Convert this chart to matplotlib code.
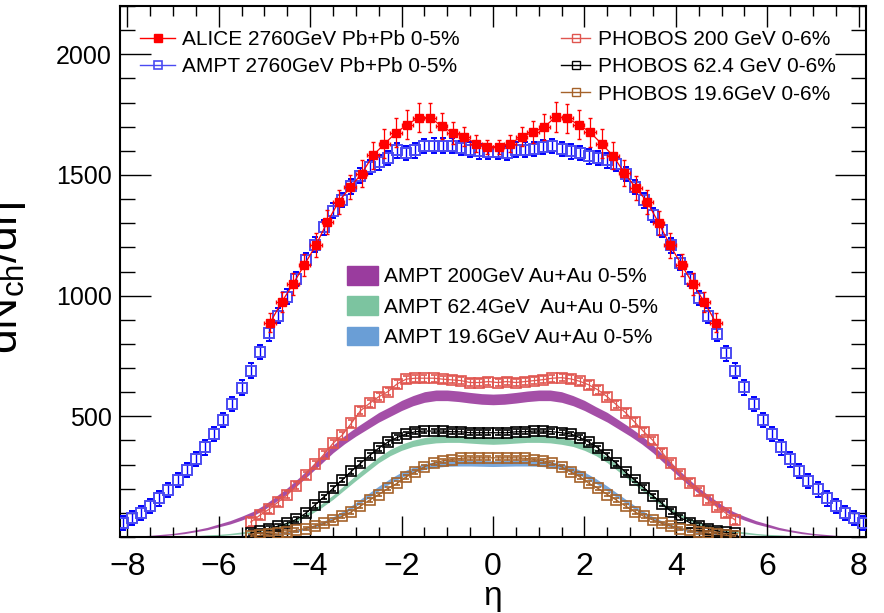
import numpy as np
import matplotlib.pyplot as plt
from matplotlib.lines import Line2D
from matplotlib.patches import Patch

plt.rcParams['font.family'] = ['Liberation Sans', 'DejaVu Sans']
plt.rcParams['mathtext.fontset'] = 'custom'
plt.rcParams['mathtext.rm'] = 'Liberation Sans'
plt.rcParams['mathtext.it'] = 'Liberation Sans'

# ALICE 2760 GeV Pb+Pb 0-5%  (bins of 0.25 in eta)
alice_eta = np.arange(-4.875, 4.9, 0.25)
alice_val = [888, 973, 1048, 1128, 1209, 1305, 1389, 1449, 1505, 1581,
             1629, 1674, 1709, 1738, 1738, 1702, 1674, 1658, 1630, 1616,
             1616, 1630, 1658, 1677, 1699, 1742, 1734, 1709, 1677, 1629,
             1580, 1508, 1446, 1388, 1301, 1208, 1128, 1048, 973, 888]
alice_err = [40, 40, 45, 45, 50, 50, 50, 50, 55, 55,
             60, 60, 60, 62, 62, 55, 45, 40, 35, 30,
             30, 35, 40, 45, 55, 62, 62, 60, 60, 60,
             55, 55, 50, 50, 50, 50, 45, 45, 40, 40]

# AMPT 2760 GeV Pb+Pb 0-5%  (bins of 0.2)
ampt2760_eta = np.round(np.arange(-8.1, 8.15, 0.2), 2)
ampt2760_val = [58, 79, 100, 129, 160, 194, 236, 277, 323, 371,
                427, 485, 551, 619, 689, 766, 844, 917, 996, 1070,
                1146, 1211, 1283, 1352, 1397, 1453, 1497, 1532, 1552, 1571,
                1602, 1591, 1602, 1619, 1622, 1622, 1622, 1612, 1605, 1598,
                1595, 1595,
                1591, 1605, 1605, 1608, 1616, 1619, 1608, 1598, 1591, 1577,
                1571, 1560, 1545, 1505, 1450, 1395, 1335, 1273, 1208, 1137,
                1068, 990, 917, 840, 761, 689, 620, 551, 485, 427,
                371, 322, 274, 233, 197, 160, 128, 100, 79, 58]
ampt2760_err = 30

# PHOBOS 0-6%  (bins of 0.2)
phobos_eta = np.round(np.arange(-5.3, 5.35, 0.2), 2)
phobos200 = [62, 90, 115, 145, 175, 212, 256, 301, 342, 388,
             422, 471, 523, 554, 581, 602, 634, 654, 658, 658,
             658, 654, 651, 648, 640, 640, 644,
             640, 644, 640, 644, 648, 652, 658, 660, 655, 645,
             630, 609, 581, 548, 515, 476, 436, 400, 350, 305,
             260, 225, 190, 155, 125, 98, 70]
phobos62 = [17, 25, 35, 45, 56, 73, 98, 132, 166, 201,
            236, 272, 305, 338, 368, 393, 412, 427, 436, 439,
            439, 439, 436, 436, 432, 432, 432,
            432, 432, 436, 436, 439, 439, 436, 432, 427, 412,
            393, 368, 338, 305, 268, 236, 204, 170, 138, 105,
            80, 60, 46, 35, 26, 19, 15]
phobos19 = [3, 7, 12, 17, 21, 28, 35, 45, 56, 70,
            86, 104, 128, 153, 176, 201, 222, 249, 270, 291,
            305, 316, 321, 326, 328, 328, 328,
            328, 328, 328, 326, 321, 316, 305, 291, 270, 249,
            222, 201, 176, 153, 128, 104, 86, 70, 56, 45,
            35, 28, 21, 17, 12, 7, 3]
phobos_err = [15, 10, 8]

# AMPT Au+Au 0-5% bands
band_eta = np.round(np.arange(-8.0, 8.01, 0.25), 2)
ampt200 = [2, 3, 5, 8, 12, 18, 26, 35, 48, 61, 78, 97, 124, 157, 192, 232,
           276, 320, 365, 403, 436, 466, 496, 520, 545, 565, 580, 587, 587, 583, 577, 572,
           570,
           572, 577, 583, 587, 587, 580, 565, 545, 520, 496, 466, 436, 403, 365, 320, 276,
           232, 192, 157, 124, 97, 78, 61, 48, 35, 26, 18, 12, 8, 5, 3, 2]
ampt200_err = [2, 2, 2, 3, 3, 4, 4, 5, 6, 7, 8, 9, 10, 11, 12, 13,
               14, 15, 16, 17, 18, 19, 20, 20, 21, 21, 22, 22, 22, 22, 22, 22,
               22,
               22, 22, 22, 22, 22, 22, 21, 21, 20, 20, 19, 18, 17, 16, 15, 14,
               13, 12, 11, 10, 9, 8, 7, 6, 5, 4, 4, 3, 3, 2, 2, 2]
ampt62 = [0, 0, 1, 1, 2, 3, 4, 6, 8, 12, 17, 23, 32, 42, 57, 76,
          100, 130, 165, 205, 245, 283, 320, 350, 372, 388, 398, 404, 406, 406, 403, 400,
          398,
          400, 403, 406, 406, 404, 398, 388, 372, 350, 320, 283, 245, 205, 165, 130, 100,
          76, 57, 42, 32, 23, 17, 12, 8, 6, 4, 3, 2, 1, 1, 0, 0]
ampt62_err = [2, 2, 2, 2, 2, 2, 2, 3, 3, 3, 4, 4, 5, 5, 6, 6,
              7, 8, 9, 10, 11, 12, 12, 13, 13, 13, 14, 14, 14, 14, 14, 14,
              14,
              14, 14, 14, 14, 14, 14, 13, 13, 13, 12, 12, 11, 10, 9, 8, 7,
              6, 6, 5, 5, 4, 4, 3, 3, 3, 2, 2, 2, 2, 2, 2, 2]
ampt19 = [0, 0, 0, 0, 0, 0, 1, 1, 2, 3, 4, 6, 9, 13, 19, 28,
          40, 56, 78, 104, 135, 168, 201, 232, 258, 278, 292, 301, 305, 306, 306, 305,
          304,
          305, 306, 306, 305, 301, 292, 278, 258, 232, 201, 168, 135, 104, 78, 56, 40,
          28, 19, 13, 9, 6, 4, 3, 2, 1, 1, 0, 0, 0, 0, 0, 0]
ampt19_err = [2, 2, 2, 2, 2, 2, 2, 2, 2, 2, 3, 3, 3, 4, 4, 5,
              5, 6, 6, 7, 8, 9, 10, 10, 11, 11, 12, 12, 12, 12, 12, 12,
              12,
              12, 12, 12, 12, 12, 12, 11, 11, 10, 10, 9, 8, 7, 6, 6, 5,
              5, 4, 4, 3, 3, 3, 2, 2, 2, 2, 2, 2, 2, 2, 2, 2]

c_purple = '#9a3c9e'
c_green = '#7cc4a0'
c_blue = '#6a9ed6'
c_ph200 = '#e0554f'
c_ph62 = '#000000'
c_ph19 = '#a5622a'
c_alice = '#ff0000'
c_ampt = '#4a4af2'

fig = plt.figure(figsize=(8.84, 6.13), dpi=100)
ax = fig.add_axes([120 / 884, 1 - 537 / 613, 746 / 884, 531 / 613])

for vals, errs, col in [(ampt200, ampt200_err, c_purple),
                        (ampt62, ampt62_err, c_green),
                        (ampt19, ampt19_err, c_blue)]:
    v = np.array(vals, float)
    e = np.array(errs, float)
    ax.fill_between(band_eta, v - e, v + e, color=col, lw=0, alpha=0.9, zorder=1)

for vals, err, col in zip([phobos200, phobos62, phobos19], phobos_err,
                          [c_ph200, c_ph62, c_ph19]):
    ax.errorbar(phobos_eta, vals, yerr=err, color=col, marker='s', ms=7,
                mfc='none', mec=col, mew=1.2, lw=0.9, elinewidth=0.9,
                capsize=2, zorder=3)

ax.errorbar(ampt2760_eta, ampt2760_val, yerr=ampt2760_err, color='#0000ff',
            ls='none', marker='s', ms=6.5, mfc='none', mec=c_ampt, mew=1.4,
            elinewidth=1.0, capsize=2, zorder=4)

ax.errorbar(alice_eta, alice_val, yerr=alice_err, xerr=0.125, color=c_alice,
            marker='s', ms=6, mfc=c_alice, mec=c_alice, lw=0.9,
            elinewidth=0.9, capsize=1.5, zorder=5)

ax.set_xlim(-8.16, 8.16)
ax.set_ylim(0, 2200)
ax.set_xticks(np.arange(-8, 8.1, 2))
ax.set_xticks(np.arange(-8, 8.1, 0.5), minor=True)
ax.set_yticks([500, 1000, 1500, 2000])
ax.set_yticks(np.arange(0, 2201, 100), minor=True)
ax.tick_params(which='both', direction='in', top=True, right=True, width=1.0)
ax.tick_params(axis='x', which='major', length=15, labelsize=23, pad=11)
ax.tick_params(axis='x', which='minor', length=7.5)
ax.tick_params(axis='y', which='major', length=22, labelsize=18, pad=6)
ax.tick_params(axis='y', which='minor', length=11)
for s in ax.spines.values():
    s.set_linewidth(1.5)

fig.text(493 / 884, 1 - 597 / 613, '\u03b7', fontsize=24, ha='center', va='center')
fig.text(28 / 884, 1 - 278 / 613, r'$\mathrm{dN_{ch}/d}\eta$', fontsize=32,
         rotation=90, ha='right', va='center')

h1 = [Line2D([], [], color=c_alice, marker='s', ms=6, mfc=c_alice, lw=1),
      Line2D([], [], color=c_ampt, marker='s', ms=6, mfc='none', mew=1.2, lw=1)]
leg1 = ax.legend(h1, ['ALICE 2760GeV Pb+Pb 0-5%', 'AMPT 2760GeV Pb+Pb 0-5%'],
                 loc='upper left', bbox_to_anchor=(140 / 884, 1 - 30 / 613),
                 bbox_transform=fig.transFigure, frameon=False, fontsize=15,
                 handlelength=1.7, handletextpad=0.3, labelspacing=0.4,
                 borderpad=0, borderaxespad=0)
ax.add_artist(leg1)

h2 = [Line2D([], [], color=c_ph200, marker='s', ms=6, mfc='none', lw=1),
      Line2D([], [], color=c_ph62, marker='s', ms=6, mfc='none', lw=1),
      Line2D([], [], color=c_ph19, marker='s', ms=6, mfc='none', lw=1)]
leg2 = ax.legend(h2, ['PHOBOS 200 GeV 0-6%', 'PHOBOS 62.4 GeV 0-6%',
                      'PHOBOS 19.6GeV 0-6%'],
                 loc='upper left', bbox_to_anchor=(561 / 884, 1 - 30 / 613),
                 bbox_transform=fig.transFigure, frameon=False, fontsize=15,
                 handlelength=1.4, handletextpad=0.4, labelspacing=0.4,
                 borderpad=0, borderaxespad=0)
ax.add_artist(leg2)

h3 = [Patch(facecolor=c_purple, edgecolor=c_purple),
      Patch(facecolor=c_green, edgecolor=c_green),
      Patch(facecolor=c_blue, edgecolor=c_blue)]
ax.legend(h3, ['AMPT 200GeV Au+Au 0-5%', 'AMPT 62.4GeV  Au+Au 0-5%',
               'AMPT 19.6GeV Au+Au 0-5%'],
          loc='upper left', bbox_to_anchor=(347 / 884, 1 - 266 / 613),
          bbox_transform=fig.transFigure, frameon=False, fontsize=15,
          handlelength=1.5, handleheight=1.0, handletextpad=0.3,
          labelspacing=0.47, borderpad=0, borderaxespad=0)

fig.savefig('out.png', dpi=100)
